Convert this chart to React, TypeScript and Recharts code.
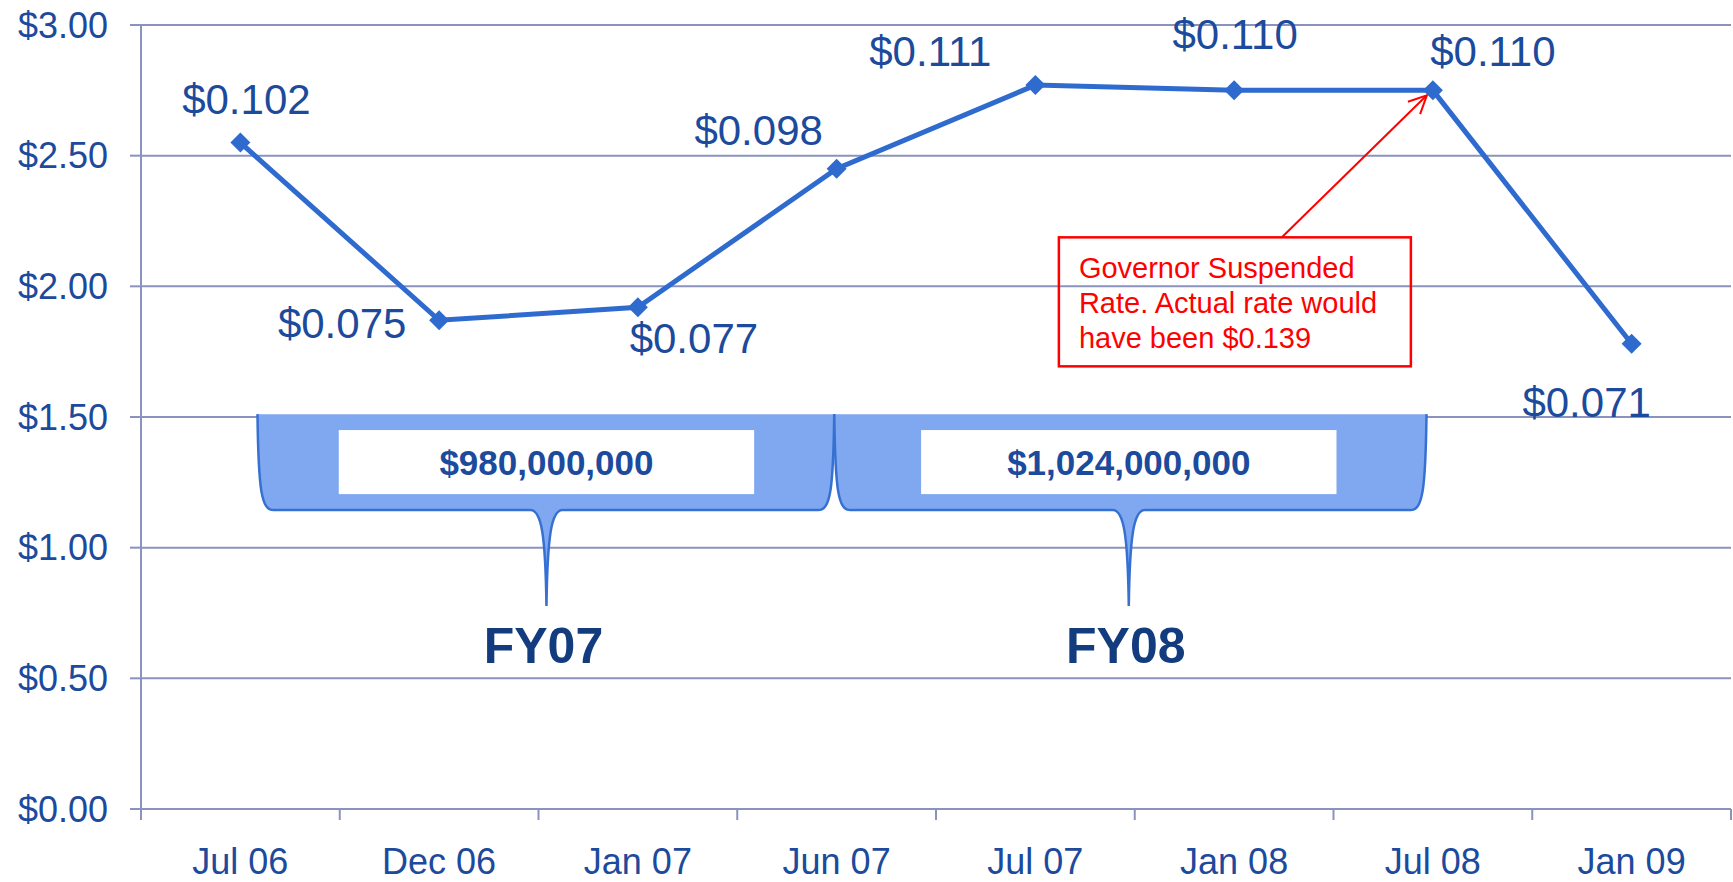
import React from 'react';
import {
  LineChart,
  Line,
  XAxis,
  YAxis,
  CartesianGrid,
  ReferenceArea,
  ReferenceDot,
  LabelList,
} from 'recharts';

// ---------- data ----------
const months = ['Jul 06', 'Dec 06', 'Jan 07', 'Jun 07', 'Jul 07', 'Jan 08', 'Jul 08', 'Jan 09'];
const rates = [2.55, 1.87, 1.92, 2.45, 2.77, 2.75, 2.75, 1.78];
const rateLabels = ['$0.102', '$0.075', '$0.077', '$0.098', '$0.111', '$0.110', '$0.110', '$0.071'];
const yTicks = [0, 0.5, 1, 1.5, 2, 2.5, 3];
const fiscalYears = ['FY07', 'FY08'];
const fiscalAmounts = ['$980,000,000', '$1,024,000,000'];
const noteLines = ['Governor Suspended', 'Rate. Actual rate would', 'have been $0.139'];
const noteMonth = 'Jul 08';
const noteRate = 2.75;

// ---------- layout / style (not data) ----------
const W = 1733;
const H = 882;
const Y_AXIS_W = 141;
const RIGHT_M = 2;
const BAND = (W - Y_AXIS_W - RIGHT_M) / months.length;
const FONT = '"Liberation Sans", Arial, Helvetica, sans-serif';
const GRID = '#8A93BE';
const LINE = '#2F6BCF';
const TEXT = '#1C4A9C';
const DARK = '#123C7E';
const BRACE_FILL = '#80A8F0';
const BRACE_STROKE = '#3670D2';

// label offsets from each point (dx, dy to label centre)
const labelOffsets: [number, number][] = [
  [6, -44],
  [-97, 3],
  [56, 31],
  [-78, -39],
  [-105, -34],
  [1, -56],
  [60, -39],
  [-45, 58],
];

// brace extents in category-band units (from the plot's left edge)
const braceSpans = [
  { from: 0.586, to: 3.488, tip: 2.04 },
  { from: 3.488, to: 6.468, tip: 4.97 },
];
const BRACE_TOP = 1.511;
const BRACE_BOTTOM = 1.144;
const BRACE_TIP = 0.777;
const BOX_TOP = 1.45;
const BOX_BOTTOM = 1.205;
const FY_LEVEL = 0.627;

const data = months.map((m, i) => ({ month: m, rate: rates[i], label: rateLabels[i] }));

const Diamond = (p: any) => {
  const { cx, cy, index } = p;
  if (cx == null || cy == null) return <g key={`d${index}`} />;
  const r = 10;
  return (
    <polygon
      key={`d${index}`}
      points={`${cx},${cy - r} ${cx + r},${cy} ${cx},${cy + r} ${cx - r},${cy}`}
      fill={LINE}
    />
  );
};

const RateLabel = (p: any) => {
  const { x, y, index } = p;
  const [dx, dy] = labelOffsets[index] || [0, -40];
  const fs = 42;
  return (
    <text
      x={x + dx}
      y={y + dy + fs * 0.358}
      textAnchor="middle"
      fontSize={fs}
      fontFamily={FONT}
      fill={TEXT}
    >
      {rateLabels[index]}
    </text>
  );
};

const XTick = (p: any) => {
  const { x, y, payload } = p;
  const off = payload && payload.offset ? payload.offset : BAND / 2;
  const isLast = payload && payload.index === months.length - 1;
  return (
    <g>
      <line x1={x - off} x2={x - off} y1={y} y2={y + 11} stroke={GRID} strokeWidth={2} />
      {isLast && <line x1={x + off} x2={x + off} y1={y} y2={y + 11} stroke={GRID} strokeWidth={2} />}
      <text x={x} y={y + 65} textAnchor="middle" fontSize={36} fontFamily={FONT} fill={TEXT}>
        {payload.value}
      </text>
    </g>
  );
};

const makeBrace = (idx: number) => (p: any) => {
  const { x, y, width, height } = p;
  if (x == null) return <g />;
  // area spans from the first to the last category centre
  const band = width / (months.length - 1);
  const span = braceSpans[idx];
  const px = (u: number) => x + (u - 0.5) * band;
  const py = (v: number) => y + ((BRACE_TOP - v) / (BRACE_TOP - FY_LEVEL)) * height;
  const L = px(span.from);
  const R = px(span.to);
  const C = px(span.tip);
  const T = py(BRACE_TOP);
  const B = py(BRACE_BOTTOM);
  const P = py(BRACE_TIP);
  const h = B - T;
  const outline =
    `M ${L} ${T} C ${L + 1} ${T + 0.8 * h} ${L + 4} ${B} ${L + 16} ${B} ` +
    `L ${C - 16} ${B} C ${C - 5} ${B} ${C - 1} ${B + 25} ${C} ${P} ` +
    `C ${C + 1} ${B + 25} ${C + 5} ${B} ${C + 16} ${B} ` +
    `L ${R - 16} ${B} C ${R - 4} ${B} ${R - 1} ${T + 0.8 * h} ${R} ${T}`;
  const boxW = 2.09 * band;
  const bt = py(BOX_TOP);
  const bb = py(BOX_BOTTOM);
  const fyY = py(FY_LEVEL);
  return (
    <g>
      <path d={outline + ' Z'} fill={BRACE_FILL} stroke="none" />
      <path d={outline} fill="none" stroke={BRACE_STROKE} strokeWidth={2.5} />
      <rect x={C - boxW / 2} y={bt} width={boxW} height={bb - bt} fill="#FFFFFF" />
      <text
        x={C}
        y={(bt + bb) / 2 + 35 * 0.358}
        textAnchor="middle"
        fontSize={35}
        fontWeight="bold"
        fontFamily={FONT}
        fill={TEXT}
      >
        {fiscalAmounts[idx]}
      </text>
      <text
        x={C - 3}
        y={fyY + 50 * 0.358}
        textAnchor="middle"
        fontSize={50}
        fontWeight="bold"
        fontFamily={FONT}
        fill={DARK}
      >
        {fiscalYears[idx]}
      </text>
    </g>
  );
};

const Note = (p: any) => {
  const { cx, cy } = p;
  if (cx == null) return <g />;
  const bx = cx - 374;
  const by = cy + 147;
  const bw = 352;
  const bh = 129;
  const sx = cx - 151;
  const sy = by;
  const ex = cx - 6;
  const ey = cy + 5;
  const ang = Math.atan2(ey - sy, ex - sx);
  const hl = 20;
  const a1 = ang + Math.PI - 0.45;
  const a2 = ang + Math.PI + 0.45;
  return (
    <g>
      <line x1={sx} y1={sy} x2={ex} y2={ey} stroke="#FF0000" strokeWidth={2} />
      <polyline
        points={`${ex + hl * Math.cos(a1)},${ey + hl * Math.sin(a1)} ${ex},${ey} ${ex + hl * Math.cos(a2)},${ey + hl * Math.sin(a2)}`}
        fill="none"
        stroke="#FF0000"
        strokeWidth={2}
      />
      <rect x={bx} y={by} width={bw} height={bh} fill="none" stroke="#FF0000" strokeWidth={2.5} />
      {noteLines.map((t, i) => (
        <text
          key={i}
          x={bx + 20}
          y={by + 30 + i * 35 + 29 * 0.358}
          fontSize={29}
          fontFamily={FONT}
          fill="#FF0000"
        >
          {t}
        </text>
      ))}
    </g>
  );
};

export default function App() {
  return (
    <div
      style={{
        position: 'absolute',
        left: 0,
        top: 0,
        width: W,
        height: H,
        background: '#FFFFFF',
        fontFamily: FONT,
      }}
    >
      <LineChart width={W} height={H} data={data} margin={{ top: 25, right: RIGHT_M, bottom: 0, left: 0 }}>
        <CartesianGrid vertical={false} stroke={GRID} strokeWidth={2} />
        <XAxis
          dataKey="month"
          height={73}
          padding={{ left: BAND / 2, right: BAND / 2 }}
          axisLine={{ stroke: GRID, strokeWidth: 2 }}
          tickLine={false}
          tickSize={0}
          tickMargin={0}
          interval={0}
          tick={<XTick />}
        />
        <YAxis
          width={Y_AXIS_W}
          domain={[0, 3]}
          ticks={yTicks}
          interval={0}
          axisLine={{ stroke: GRID, strokeWidth: 2 }}
          tickLine={{ stroke: GRID, strokeWidth: 2 }}
          tickSize={11}
          tickMargin={22}
          tickFormatter={(v: number) => `$${v.toFixed(2)}`}
          tick={{ fontSize: 36, fill: TEXT, fontFamily: FONT }}
        />
        {braceSpans.map((_, i) => (
          <ReferenceArea
            key={`b${i}`}
            y1={FY_LEVEL}
            y2={BRACE_TOP}
            shape={makeBrace(i)}
          />
        ))}
        <ReferenceDot x={noteMonth} y={noteRate} shape={(p: any) => <Note {...p} />} />
        <Line
          type="linear"
          dataKey="rate"
          stroke={LINE}
          strokeWidth={5}
          dot={(p: any) => <Diamond key={`dd${p.index}`} {...p} />}
          activeDot={false}
          isAnimationActive={false}
        >
          <LabelList dataKey="label" content={(p: any) => <RateLabel {...p} />} />
        </Line>
      </LineChart>
    </div>
  );
}
